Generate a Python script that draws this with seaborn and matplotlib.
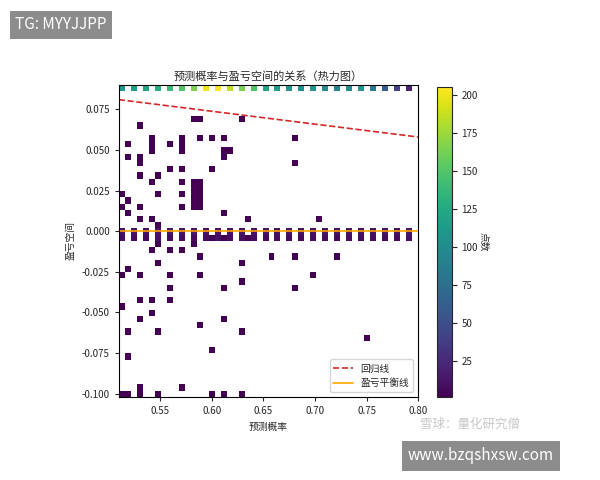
import numpy as np
import matplotlib
matplotlib.use("Agg")
import matplotlib.pyplot as plt
import seaborn as sns

sns.set_style("white")
plt.rcParams['font.family'] = ['Noto Sans CJK SC', 'DejaVu Sans']
plt.rcParams['axes.unicode_minus'] = False

# top row (y ~ 0.088) counts, every other x bin
top_x = [0.513 + 0.0116 * k for k in range(25)]
top_c = [110, 115, 120, 130, 140, 150, 165, 200, 205, 185, 165, 150, 120,
         115, 110, 105, 110, 100, 95, 100, 110, 85, 60, 40, 20]
# two rows around break-even
mid_x = top_x
mid_c1 = [12, 10, 11, 12, 14, 12, 13, 11, 10, 12, 11, 10, 12, 11, 12, 11, 10, 12, 11, 12, 10, 11, 12, 11, 14]
mid_c2 = [8, 7, 6, 9, 6, 8, 6, 7, 9, 6, 8, 7, 6, 8, 7, 6, 8, 7, 6, 8, 7, 8, 6, 7, 9]
# scattered single-count cells
pts_x = [0.584, 0.590, 0.629, 0.532, 0.521, 0.543, 0.543, 0.543, 0.561, 0.572, 0.572, 0.572,
         0.589, 0.601, 0.612, 0.681, 0.521, 0.532, 0.532, 0.613, 0.618, 0.613, 0.681,
         0.561, 0.572, 0.601, 0.532, 0.550, 0.543, 0.572, 0.584, 0.584, 0.584, 0.584, 0.584,
         0.590, 0.590, 0.590, 0.590, 0.590, 0.514, 0.550, 0.521, 0.514, 0.521, 0.532,
         0.572, 0.572, 0.612, 0.532, 0.543, 0.636, 0.703, 0.550,
         0.561, 0.584, 0.601, 0.612, 0.618, 0.636,
         0.550, 0.584, 0.543, 0.561, 0.572, 0.589, 0.659, 0.681, 0.722, 0.629, 0.550,
         0.521, 0.514, 0.532, 0.561, 0.589, 0.697, 0.629, 0.561, 0.614, 0.681,
         0.532, 0.543, 0.561, 0.514, 0.543, 0.532, 0.612, 0.589, 0.521, 0.550, 0.629,
         0.750, 0.601, 0.521, 0.572, 0.532,
         0.514, 0.521, 0.532, 0.550, 0.601, 0.612, 0.629]
pts_y = [0.069, 0.069, 0.069, 0.065, 0.054, 0.057, 0.052, 0.048, 0.054, 0.057, 0.052, 0.048,
         0.057, 0.057, 0.057, 0.057, 0.046, 0.046, 0.042, 0.050, 0.050, 0.046, 0.042,
         0.038, 0.038, 0.038, 0.034, 0.034, 0.031, 0.031, 0.031, 0.027, 0.023, 0.019, 0.015,
         0.031, 0.027, 0.023, 0.019, 0.015, 0.023, 0.023, 0.019, 0.015, 0.012, 0.015,
         0.021, 0.017, 0.012, 0.0075, 0.0075, 0.0075, 0.0075, 0.004,
         -0.005, -0.005, -0.005, -0.005, -0.005, -0.005,
         -0.008, -0.008, -0.012, -0.012, -0.012, -0.016, -0.016, -0.016, -0.016, -0.019, -0.019,
         -0.023, -0.0275, -0.0275, -0.0275, -0.0275, -0.0275, -0.031, -0.035, -0.035, -0.035,
         -0.0425, -0.0425, -0.0425, -0.046, -0.050, -0.054, -0.054, -0.057, -0.062, -0.062, -0.062,
         -0.066, -0.073, -0.077, -0.097, -0.097,
         -0.100, -0.100, -0.100, -0.100, -0.100, -0.100, -0.100]
# regression line coefficients
reg_slope = -0.0793
reg_icpt = 0.1214

xs = np.array(top_x + mid_x + mid_x + pts_x)
ys = np.array([0.088] * len(top_x) + [0.0005] * len(mid_x) + [-0.0025] * len(mid_x) + pts_y)
ws = np.array(top_c + mid_c1 + mid_c2 + [1] * len(pts_x), dtype=float)

fig = plt.figure(figsize=(6, 4.8), dpi=100)
ax = fig.add_axes([0.198, 0.173, 0.499, 0.65])
cax = fig.add_axes([0.728, 0.173, 0.025, 0.645])
xe = np.linspace(0.51, 0.80, 51)
ye = np.linspace(-0.102, 0.090, 51)
h = ax.hist2d(xs, ys, bins=[xe, ye], weights=ws, cmap='viridis', cmin=1, vmin=1, vmax=205)
cb = fig.colorbar(h[3], cax=cax, ticks=[25, 50, 75, 100, 125, 150, 175, 200])
cb.set_label('点数', fontsize=7, rotation=270, labelpad=8)
cb.ax.tick_params(labelsize=7)

lx = np.array([0.51, 0.80])
ax.plot(lx, reg_slope * lx + reg_icpt, '--', color='#d62728', lw=1.2, label='回归线')
ax.axhline(0, color='orange', lw=1.2, label='盈亏平衡线')
ax.set_xlim(0.51, 0.80)
ax.set_ylim(-0.102, 0.090)
ax.set_xticks([0.55, 0.60, 0.65, 0.70, 0.75, 0.80])
ax.set_yticks([-0.100, -0.075, -0.050, -0.025, 0.000, 0.025, 0.050, 0.075])
ax.yaxis.set_major_formatter(matplotlib.ticker.FormatStrFormatter('%.3f'))
ax.tick_params(labelsize=7, length=3, left=True, bottom=True)
for s in ax.spines.values():
    s.set_color('black'); s.set_linewidth(0.8)
ax.set_xlabel('预测概率', fontsize=7)
ax.set_ylabel('盈亏空间', fontsize=7)
ax.set_title('预测概率与盈亏空间的关系（热力图）', fontsize=8, pad=4)
ax.legend(loc='lower right', fontsize=7, frameon=True)

fig.text(0.025, 0.948, 'TG: MYYJJPP', fontsize=11, color='white', va='center',
         bbox=dict(boxstyle='square,pad=0.35', fc='#8c8c8c', ec='none'))
fig.text(0.70, 0.117, '雪球：量化研究僧', fontsize=9, color='#c8c8c8', va='center')
fig.text(0.68, 0.05, 'www.bzqshxsw.com', fontsize=11, color='white', va='center',
         bbox=dict(boxstyle='square,pad=0.4', fc='#8c8c8c', ec='none'))
fig.savefig('out.png', dpi=100)
